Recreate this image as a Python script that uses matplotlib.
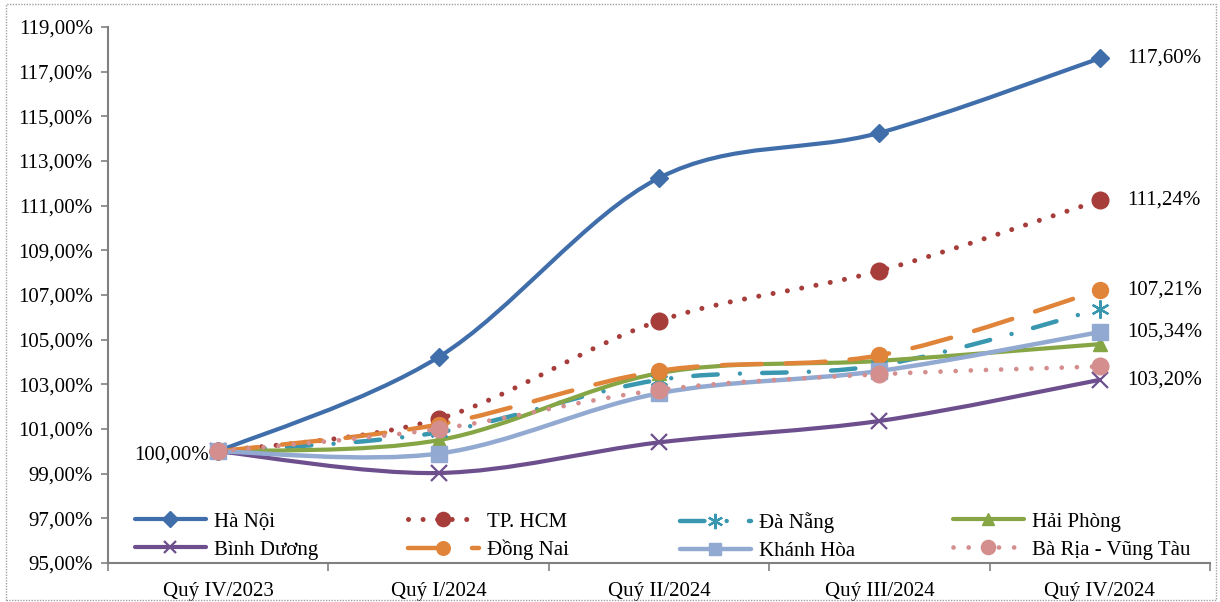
import numpy as np
import matplotlib.pyplot as plt
from matplotlib.path import Path
from matplotlib.patches import PathPatch, Rectangle
from matplotlib.lines import Line2D
from matplotlib.ticker import FuncFormatter

plt.rcParams['font.family'] = ['Liberation Serif', 'DejaVu Serif']

quarters = ["Quý IV/2023", "Quý I/2024", "Quý II/2024", "Quý III/2024", "Quý IV/2024"]

ha_noi = [100.00, 104.22, 112.24, 114.26, 117.60]
tp_hcm = [100.00, 101.45, 105.84, 108.08, 111.24]
da_nang = [100.00, 100.85, 103.20, 103.85, 106.37]
hai_phong = [100.00, 100.50, 103.50, 104.05, 104.80]
binh_duong = [100.00, 99.03, 100.40, 101.36, 103.20]
dong_nai = [100.00, 101.20, 103.60, 104.30, 107.21]
khanh_hoa = [100.00, 99.90, 102.60, 103.60, 105.34]
ba_ria = [100.00, 101.00, 102.75, 103.45, 103.80]

# name, values, color, linestyle, linewidth, marker, markersize
series = [
    ("Hà Nội", ha_noi, "#3F6EAA", "-", 3.0, "D", 9),
    ("TP. HCM", tp_hcm, "#A63D3A", (0, (0.01, 2.9)), 3.6, "o", 12),
    ("Đà Nẵng", da_nang, "#3A97B0", (0, (5.5, 5, 0.01, 5)), 3.2, (6, 2, 0), 13),
    ("Hải Phòng", hai_phong, "#86A544", "-", 3.0, "^", 10),
    ("Bình Dương", binh_duong, "#6D4F8E", "-", 3.0, "x", 11),
    ("Đồng Nai", dong_nai, "#E0843A", (0, (9, 5.4)), 3.2, "o", 11.5),
    ("Khánh Hòa", khanh_hoa, "#92AAD2", "-", 3.2, "s", 11),
    ("Bà Rịa - Vũng Tàu", ba_ria, "#D48E8E", (0, (0.01, 3.2)), 3.4, "o", 12),
]

# data labels: (series index, point index, text)
labels = [(0, 4, "117,60%"), (1, 4, "111,24%"), (5, 4, "107,21%"),
          (6, 4, "105,34%"), (4, 4, "103,20%")]

FS = 15


def smooth_path(xs, ys):
    # Excel style smoothed line: cubic bezier through the points
    pts = np.column_stack([xs, ys]).astype(float)
    n = len(pts)
    verts = [pts[0]]
    codes = [Path.MOVETO]
    for i in range(n - 1):
        p0 = pts[i - 1] if i > 0 else pts[i]
        p1 = pts[i]
        p2 = pts[i + 1]
        p3 = pts[i + 2] if i + 2 < n else pts[i + 1]
        verts += [p1 + (p2 - p0) / 6, p2 - (p3 - p1) / 6, p2]
        codes += [Path.CURVE4] * 3
    return Path(verts, codes)


fig = plt.figure(figsize=(12.2, 6.02), dpi=100)
ax = fig.add_axes([108 / 1220, 1 - 563 / 602, 1102 / 1220, 536 / 602])

x = np.arange(len(quarters))
handles = []
for name, vals, color, ls, lw, mk, ms in series:
    patch = PathPatch(smooth_path(x, vals), fill=False, edgecolor=color,
                      linewidth=lw, linestyle=ls, capstyle="round", joinstyle="round")
    ax.add_patch(patch)
    mew = 1.6 if mk in ("x",) or isinstance(mk, tuple) else 1
    ax.plot(x, vals, linestyle="none", marker=mk, markersize=ms, color=color,
            markeredgecolor=color, markeredgewidth=mew)
    h = Line2D([], [], color=color, linestyle=ls, linewidth=lw, marker=mk,
               markersize=ms * 0.85, markeredgecolor=color, markeredgewidth=mew,
               dash_capstyle="round", solid_capstyle="round")
    handles.append((h, name))

for si, pi, txt in labels:
    ax.annotate(txt, (x[pi], series[si][1][pi]), xytext=(20, 0), textcoords="offset points",
                ha="left", va="center", fontsize=FS)
ax.annotate("100,00%", (x[0], ha_noi[0]), xytext=(-7, -3), textcoords="offset points",
            ha="right", va="center", fontsize=FS)

ax.set_xlim(-0.5, 4.5)
ax.set_ylim(95, 119)
ax.set_yticks(np.arange(95, 119.1, 2))
ax.yaxis.set_major_formatter(FuncFormatter(lambda v, p: f"{v:.2f}%".replace(".", ",")))
ax.set_xticks(np.arange(-0.5, 4.6, 1))
ax.set_xticklabels([])
ax.set_xticks(x, minor=True)
ax.set_xticklabels(quarters, minor=True)
ax.tick_params(axis="x", which="minor", length=0, pad=14, labelsize=FS)
ax.tick_params(axis="x", which="major", length=6, color="#808080", width=1.2)
ax.tick_params(axis="y", length=5, color="#808080", width=1.2, labelsize=FS, pad=6)
for s in ("top", "right"):
    ax.spines[s].set_visible(False)
for s in ("left", "bottom"):
    ax.spines[s].set_color("#808080")
    ax.spines[s].set_linewidth(1.5)

# legend: four columns of two rows, placed like the original
col_x = [135, 408, 680, 953]
for c in range(4):
    hs = [handles[c][0], handles[c + 4][0]]
    ns = [handles[c][1], handles[c + 4][1]]
    leg = ax.legend(hs, ns, loc="upper left",
                    bbox_to_anchor=((col_x[c] - 108) / 1102, (563 - 512) / 536),
                    frameon=False, fontsize=FS, handlelength=3.4, handletextpad=0.4,
                    borderpad=0, borderaxespad=0, labelspacing=0.4, numpoints=1)
    if c < 3:
        ax.add_artist(leg)

fig.add_artist(Rectangle((6 / 1220, 2 / 602), 1210 / 1220, 596 / 602, transform=fig.transFigure,
                         fill=False, edgecolor="#A0A0A0", linestyle=(0, (1, 1)), linewidth=1))

fig.savefig("out.png", dpi=100)
plt.close(fig)
